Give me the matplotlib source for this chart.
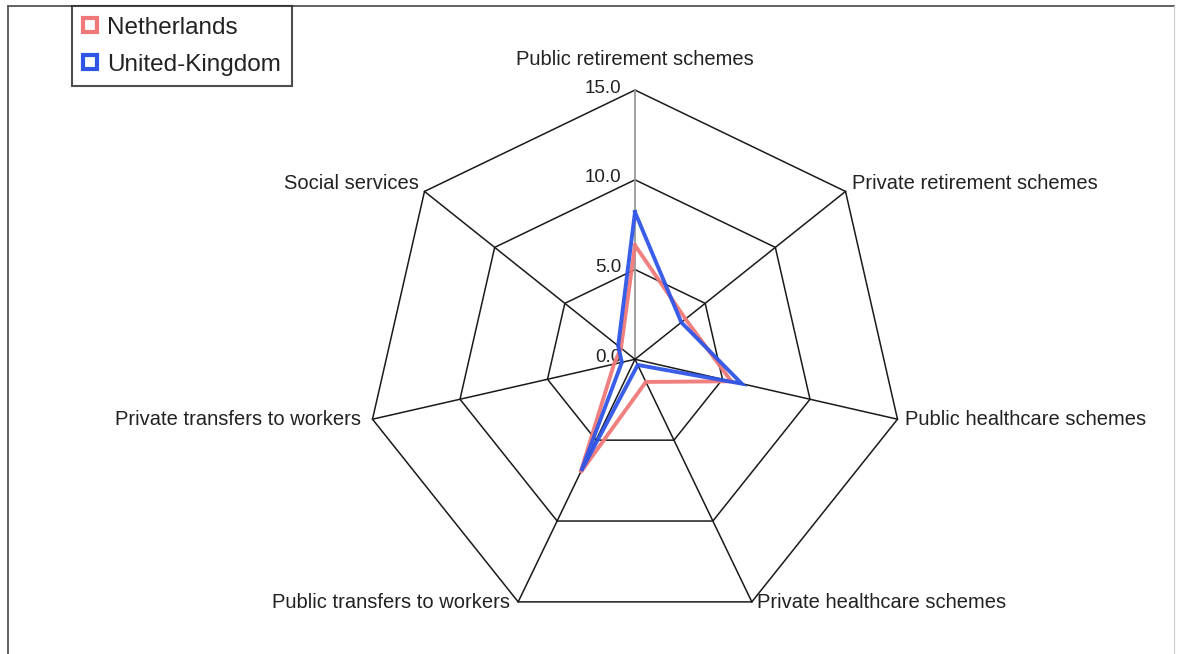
import numpy as np
import matplotlib
matplotlib.use("Agg")
import matplotlib.pyplot as plt
from matplotlib.lines import Line2D

plt.rcParams['font.family'] = ['Liberation Sans', 'DejaVu Sans']

categories = ["Public retirement schemes", "Private retirement schemes",
              "Public healthcare schemes", "Private healthcare schemes",
              "Public transfers to workers", "Private transfers to workers",
              "Social services"]
netherlands = [6.35, 3.6, 5.5, 1.4, 7.0, 1.2, 1.0]
united_kingdom = [8.2, 3.3, 6.1, 0.35, 6.9, 0.75, 1.2]
ring_levels = [5.0, 10.0, 15.0]
tick_values = [0.0, 5.0, 10.0, 15.0]
tick_labels = ["0.0", "5.0", "10.0", "15.0"]
series_names = ["Netherlands", "United-Kingdom"]

W, H, DPI = 1179, 654, 100
cx, cy, ppu = 635.0, 359.3, 17.95

fig = plt.figure(figsize=(W / DPI, H / DPI), dpi=DPI)
ax = fig.add_axes([0, 0, 1, 1])
ax.set_xlim(-cx / ppu, (W - cx) / ppu)
ax.set_ylim(-(H - cy) / ppu, cy / ppu)
ax.axis('off')

n = len(categories)
ang = np.arange(n) * 2 * np.pi / n

def xy(r, a):
    return np.asarray(r) * np.sin(a), np.asarray(r) * np.cos(a)

# rings
for lv in ring_levels:
    x, y = xy(np.full(n + 1, lv), np.append(ang, ang[0]))
    ax.plot(x, y, color='#1a1a1a', lw=1.1, zorder=1)
# spokes
rmax = max(ring_levels)
for i, a in enumerate(ang):
    x, y = xy([0, rmax], np.array([a, a]))
    ax.plot(x, y, color='#999999' if i == 0 else '#1a1a1a', lw=1.3 if i == 0 else 1.1, zorder=1)

# tick labels
for v, t in zip(tick_values, tick_labels):
    ax.annotate(t, (0, v), xytext=(-14, 2), textcoords='offset pixels',
                ha='right', va='center', fontsize=13.5, color='#222222')

# category labels
offsets = [(0, 31, 'center'), (6, 8, 'left'), (8, 0, 'left'), (5, -1, 'left'),
           (-8, -1, 'right'), (-12, 0, 'right'), (-6, 8, 'right')]
for i, (lab, a) in enumerate(zip(categories, ang)):
    x, y = xy(rmax, a)
    dx, dy, ha = offsets[i]
    ax.annotate(lab, (x, y), xytext=(dx, dy), textcoords='offset pixels',
                ha=ha, va='center', fontsize=14.5, color='#222222')

colors = ['#f07878', '#2f55e6']
for vals, c in zip([netherlands, united_kingdom], colors):
    x, y = xy(np.append(vals, vals[0]), np.append(ang, ang[0]))
    ax.plot(x, y, color=c, lw=2.8, zorder=3, solid_joinstyle='miter', alpha=0.95)

# frame
fig.add_artist(Line2D([8 / W, 8 / W], [0, 1 - 6 / H], transform=fig.transFigure, color='#555555', lw=1.3))
fig.add_artist(Line2D([8 / W, 1174 / W], [1 - 6 / H, 1 - 6 / H], transform=fig.transFigure, color='#555555', lw=1.3))
fig.add_artist(Line2D([1174 / W, 1174 / W], [0, 1 - 6 / H], transform=fig.transFigure, color='#cccccc', lw=0.8))

handles = [Line2D([], [], ls='none', marker='s', markersize=10, markerfacecolor='white',
                  markeredgecolor=c, markeredgewidth=3.0) for c in colors]
leg = fig.legend(handles, series_names, loc='upper left',
                 bbox_to_anchor=(72 / W, 1 - 6 / H), fontsize=17.5, frameon=True,
                 fancybox=False, handlelength=0.6, handletextpad=0.4,
                 borderpad=0.45, labelspacing=0.6, borderaxespad=0)
leg.get_frame().set_edgecolor('#222222')
leg.get_frame().set_linewidth(1.5)
for t in leg.get_texts():
    t.set_color('#222222')

fig.savefig('out.png', dpi=DPI)
